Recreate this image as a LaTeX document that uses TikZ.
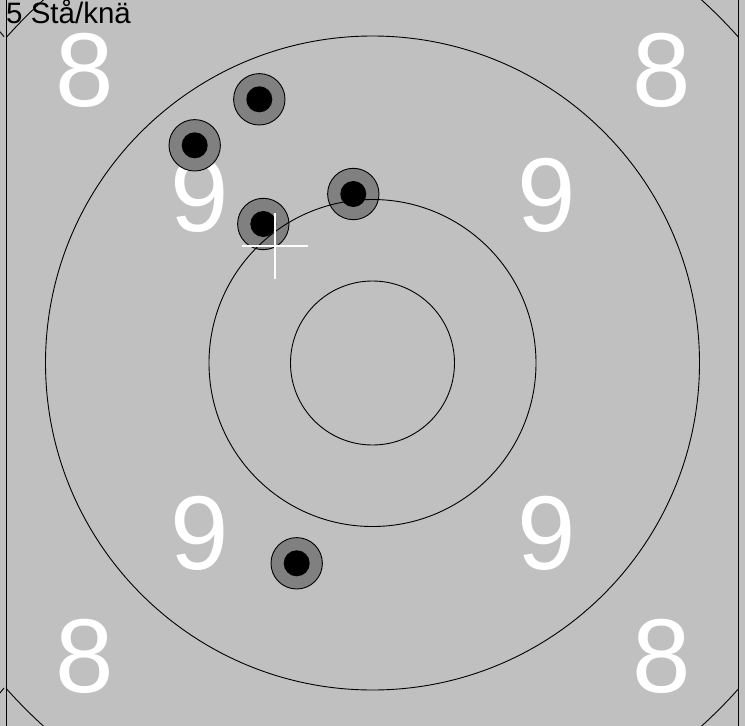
\documentclass[tikz,border=0pt]{standalone}
\usepackage{fontspec}
\setmainfont{Liberation Sans}
\begin{document}
\begin{tikzpicture}[x=1pt,y=-1pt,
  ring/.style={draw=black,line width=0.9pt},
  frameline/.style={draw=black,line width=1.4pt},
  bignum/.style={text=white,inner sep=0pt,anchor=center,font=\fontsize{105}{105}\selectfont},
  shotouter/.style={draw=black,line width=0.9pt,fill=black!50},
  shotinner/.style={fill=black},
  crossline/.style={draw=white,line width=2pt}]
\definecolor{bg}{RGB}{192,192,192}
\useasboundingbox (0,0) rectangle (745,726);
\fill[bg] (0,0) rectangle (745,726);
% big ring numbers
\node[bignum] (n8tl) at (85,70) {8};
\node[bignum] (n8tr) at (662,70) {8};
\node[bignum] (n8bl) at (85,656) {8};
\node[bignum] (n8br) at (662,656) {8};
\node[bignum] (n9tl) at (200,195) {9};
\node[bignum] (n9tr) at (547,195) {9};
\node[bignum] (n9bl) at (200,533) {9};
\node[bignum] (n9br) at (547,533) {9};
% shots
\foreach \sx/\sy in {259.3/99.3, 194.7/145.3, 353.3/194, 263.3/224, 296.7/563.3}{
  \filldraw[shotouter] (\sx,\sy) circle (25.7);
  \fill[shotinner] (\sx,\sy) circle (13);
}
% rings
\coordinate (c) at (372.5,363);
\begin{scope}
\clip (6.5,0) rectangle (738.5,726);
\draw[ring] (c) circle (490);
\end{scope}
\draw[ring] (c) circle (327);
\draw[ring] (c) circle (163.5);
\draw[ring] (c) circle (82);
\draw[ring] (0,31.7) -- (4,36.7);
\draw[ring] (0,693) -- (4,688);
% frame lines
\draw[frameline] (6.5,0) -- (6.5,726);
\draw[frameline] (738.5,0) -- (738.5,726);
% aiming cross
\coordinate (aim) at (274.5,246);
\draw[crossline] ([yshift=-33pt]aim) -- ([yshift=33pt]aim);
\draw[crossline] ([xshift=-33pt]aim) -- ([xshift=33pt]aim);
% title
\node[anchor=base west,inner sep=0pt,font=\fontsize{29.5}{31}\selectfont] (title) at (6,23.3) {5 Stå/knä};
\end{tikzpicture}
\end{document}
